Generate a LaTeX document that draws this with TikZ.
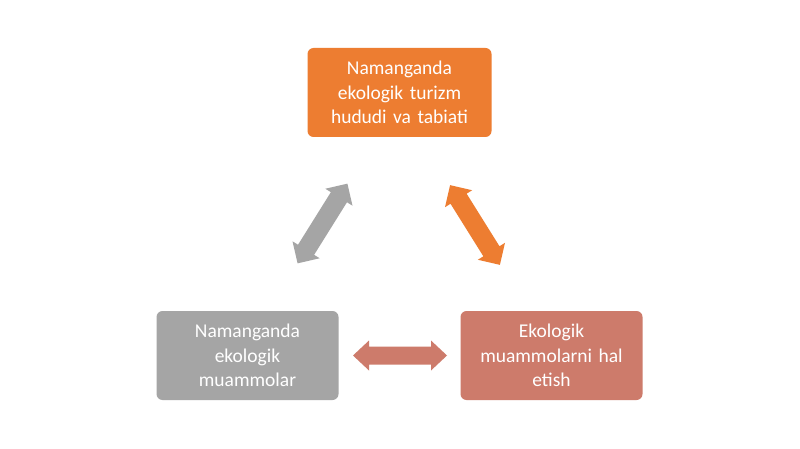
\documentclass[tikz,border=0pt]{standalone}
\usepackage{fontspec}
\setmainfont{Carlito}
\definecolor{orangeA}{HTML}{ED7D31}
\definecolor{grayA}{HTML}{A5A5A5}
\definecolor{salmonA}{HTML}{CD7B6B}
\tikzset{
  box/.style={rounded corners=6pt, minimum width=182pt, minimum height=89pt,
    text width=172pt, align=center, text=white, inner sep=0pt,
    font=\fontsize{19.5}{24.5}\selectfont}
}
% block double arrow: colour, centre, angle, shaft half width, head half width
\newcommand\blockdbl[5]{%
  \fill[#1, shift={#2}, rotate=#3]
    (-47,0) -- (-31,-#5) -- (-31,-#4) -- (31,-#4) -- (31,-#5) -- (47,0)
    -- (31,#5) -- (31,#4) -- (-31,#4) -- (-31,#5) -- cycle;}
\begin{document}
\begin{tikzpicture}[x=1pt,y=-1pt]
\useasboundingbox[fill=white] (0,0) rectangle (800,449);
\node[box, fill=orangeA, minimum width=184pt] (top) at (399.5,92.5) {Namanganda\\ekologik turizm\\hududi va tabiati};
\node[box, fill=grayA] (left) at (247.5,355.5) {Namanganda\\ekologik\\muammolar};
\node[box, fill=salmonA] (right) at (551.5,355.5) {Ekologik\\muammolarni hal\\etish};
\coordinate (a1) at (322.5,223.5);
\coordinate (a2) at (475,225);
\coordinate (a3) at (400,355.5);
\blockdbl{grayA}{(a1)}{58}{9.5}{16}
\blockdbl{orangeA}{(a2)}{-58}{9.5}{16}
\blockdbl{salmonA}{(a3)}{0}{9}{15}
\end{tikzpicture}
\end{document}
